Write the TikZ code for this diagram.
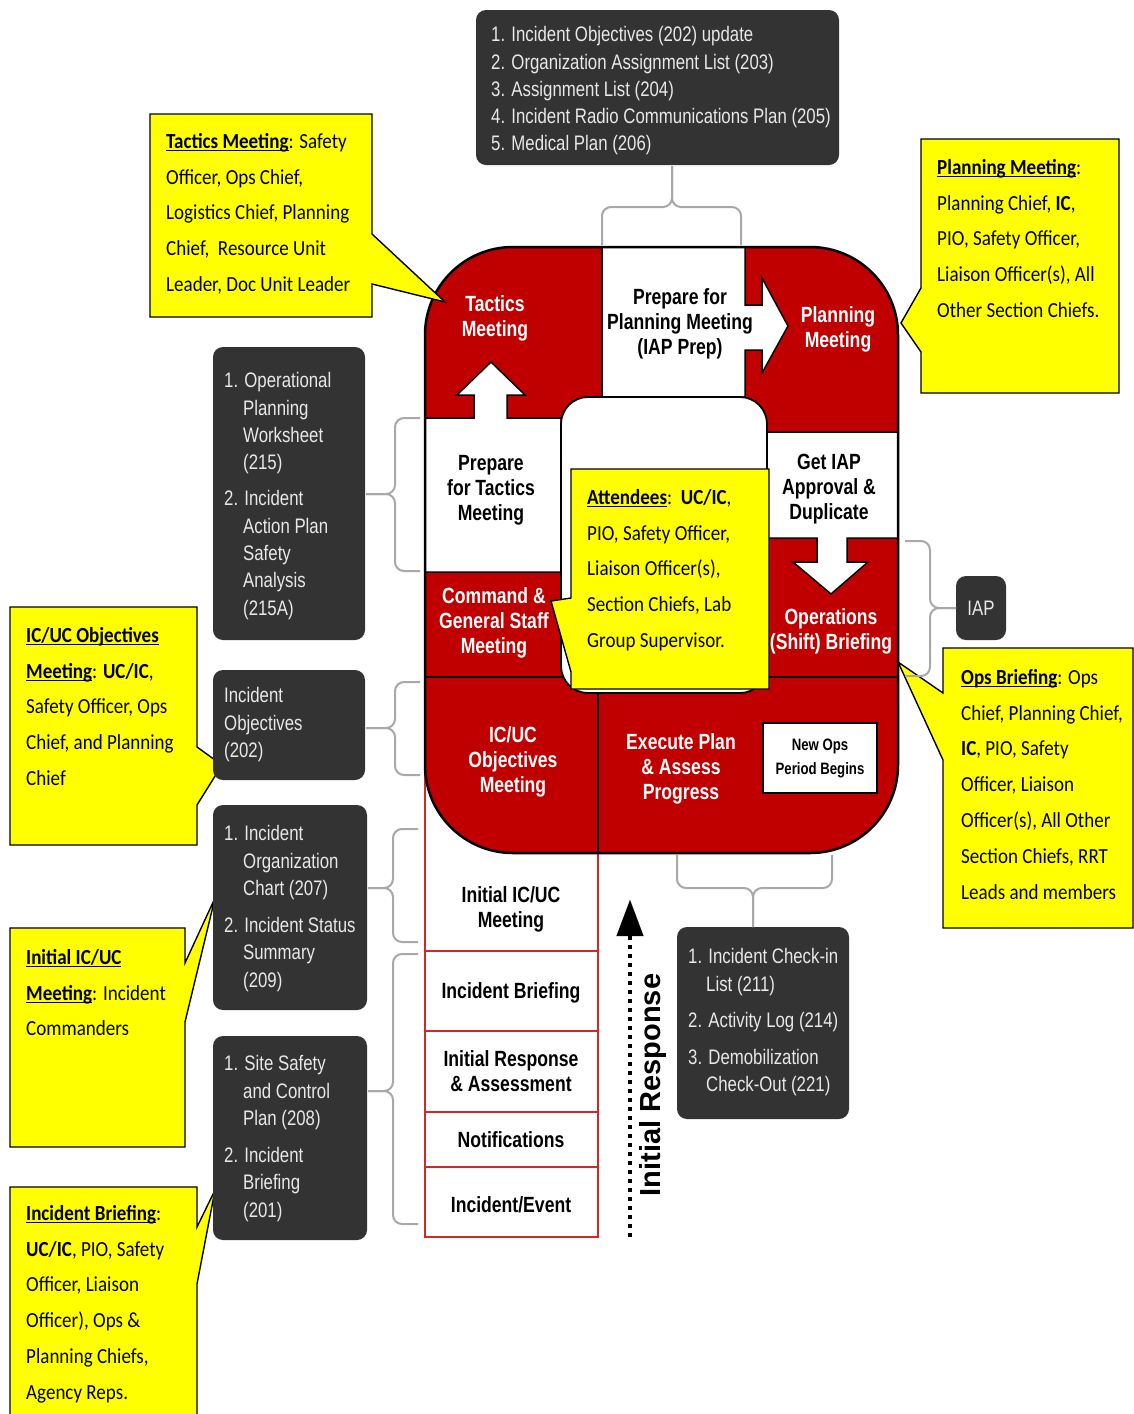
\documentclass[tikz,border=0pt]{standalone}
\usepackage{fontspec}
\usetikzlibrary{arrows.meta}
\newfontfamily\callfont[FakeStretch=0.885]{Carlito}
\newfontfamily\narrowfont[FakeStretch=0.80]{Liberation Sans}
\newfontfamily\pfont[FakeStretch=0.80]{Liberation Sans}
\newfontfamily\irfont{Liberation Sans}
\definecolor{pred}{HTML}{C00000}
\definecolor{colred}{HTML}{D42828}
\definecolor{dbox}{HTML}{333333}
\definecolor{dtxt}{HTML}{E8E8E8}
\definecolor{brgray}{HTML}{A8A8A8}
\definecolor{cyel}{HTML}{FFFF00}
\newcommand\cstrut{\rule{0pt}{16pt}}
\newcommand\dstrut{\rule{0pt}{17pt}}
\newcommand\itind{\hspace*{19pt}}
\newcommand\ulbf[1]{\setbox0=\hbox{\bfseries #1}\rlap{\rule[-3.2pt]{\wd0}{1.5pt}}\box0}
\tikzset{
  callout/.style={fill=cyel, draw=black, line width=1.4pt, line join=miter},
  ctext/.style={anchor=north west, inner sep=0pt, align=left, font={\callfont\fontsize{21.5}{35.8}\selectfont}},
  darkbox/.style={fill=dbox, draw=none, rounded corners=10pt, inner sep=0pt},
  dtext/.style={anchor=north west, inner sep=0pt, align=left, text=dtxt, font={\narrowfont\fontsize{21}{27.3}\selectfont}},
  ptxt/.style={align=center, inner sep=0pt, font={\pfont\bfseries\fontsize{22}{25}\selectfont}},
  pwhite/.style={ptxt, text=white},
  gbr/.style={draw=brgray, line width=2pt, rounded corners=9pt},
  colline/.style={draw=colred, line width=2pt},
  cellwhite/.style={fill=white, draw=black, line width=1.5pt, line join=miter},
}
\begin{document}
\begin{tikzpicture}[x=1pt,y=-1pt]
\useasboundingbox (0,0) rectangle (1134,1414);
\fill[white] (0,0) rectangle (1134,1414);

% ---------- initial response column ----------
\draw[colline] (425,677) -- (425,1237);
\draw[colline] (598,853) -- (598,1237);
\draw[colline] (425,951) -- (598,951);
\draw[colline] (425,1031) -- (598,1031);
\draw[colline] (425,1112) -- (598,1112);
\draw[colline] (425,1167) -- (598,1167);
\draw[colline] (424,1237) -- (599,1237);
\node[ptxt] (c1) at (511,909) {Initial IC/UC\\Meeting};
\node[ptxt] (c2) at (511,993) {Incident Briefing};
\node[ptxt] (c3) at (511,1071) {Initial Response\\\& Assessment};
\node[ptxt] (c4) at (511,1140) {Notifications};
\node[ptxt] (c5) at (511,1205) {Incident/Event};

% ---------- planning P ----------
\fill[pred, rounded corners=88pt] (425,247) rectangle (898,853);
% prepare for tactics + up arrow
\draw[cellwhite] (425,572) -- (425,418) -- (474,418) -- (474,395) -- (457,395) -- (491,362) -- (525,395) -- (507,395) -- (507,418) -- (561,418) -- (561,572) -- cycle;
% prepare for planning + right arrow
\draw[cellwhite] (602,247) -- (745,247) -- (745,305) -- (762,305) -- (762,278) -- (788,326) -- (762,373) -- (762,350) -- (745,350) -- (745,397) -- (602,397) -- cycle;
% get IAP + down arrow
\draw[cellwhite] (767,432) -- (898,432) -- (898,538) -- (847,538) -- (847,562) -- (868,562) -- (831,594) -- (793,562) -- (817,562) -- (817,538) -- (767,538) -- cycle;
% internal lines
\draw[line width=1.5pt] (425,677) -- (898,677);
\draw[line width=1.5pt] (598,677) -- (598,853);
% centre hole
\draw[fill=white, line width=1.8pt, rounded corners=27pt] (561,397) rectangle (767,693);
% outline
\draw[line width=2.5pt, rounded corners=88pt] (425,247) rectangle (898,853);

\node[pwhite] (tac) at (495,318) {Tactics\\Meeting};
\node[ptxt] (ppm) at (680,324) {Prepare for\\Planning Meeting\\(IAP Prep)};
\node[pwhite] (plm) at (838,329) {Planning\\Meeting};
\node[ptxt] (ptm) at (491,490) {Prepare\\for Tactics\\Meeting};
\node[pwhite] (cgs) at (494,623) {Command \&\\General Staff\\Meeting};
\node[ptxt] (gia) at (829,489) {Get IAP\\Approval \&\\Duplicate};
\node[pwhite] (osb) at (831,631) {Operations\\(Shift) Briefing};
\node[pwhite] (ico) at (513,762) {IC/UC\\Objectives\\Meeting};
\node[pwhite] (exe) at (681,769) {Execute Plan\\\& Assess\\Progress};
\node[draw=black, fill=white, line width=1.5pt, minimum width=114pt, minimum height=70pt, inner sep=0pt, align=center,
      font={\pfont\bfseries\fontsize{16.5}{24}\selectfont}] (nop) at (820,758) {New Ops\\Period Begins};

% ---------- callouts ----------
\draw[callout] (150,114) -- (372,114) -- (372,234) -- (445,302) -- (372,284) -- (372,317) -- (150,317) -- cycle;
\node[ctext] (ta) at (166,132) {\cstrut\ulbf{Tactics Meeting}: Safety\\Officer, Ops Chief,\\Logistics Chief, Planning\\Chief,\ \ Resource Unit\\Leader, Doc Unit Leader};

\draw[callout] (921,139) -- (1119,139) -- (1119,393) -- (921,393) -- (921,352) -- (901,323) -- (921,288) -- cycle;
\node[ctext] (tb) at (937,158) {\cstrut\ulbf{Planning Meeting}:\\Planning Chief, \textbf{IC},\\PIO, Safety Officer,\\Liaison Officer(s), All\\Other Section Chiefs.};

\draw[callout] (571,469) -- (769,469) -- (769,689) -- (571,689) -- (571,672) -- (551,601) -- (571,598) -- cycle;
\node[ctext] (tc) at (587,488) {\cstrut\ulbf{Attendees}:\ \ \textbf{UC/IC},\\PIO, Safety Officer,\\Liaison Officer(s),\\Section Chiefs, Lab\\Group Supervisor.};

\draw[callout] (943,648) -- (1133,648) -- (1133,928) -- (943,928) -- (943,760) -- (898,662) -- (943,693) -- cycle;
\node[ctext] (td) at (961,668) {\cstrut\ulbf{Ops Briefing}: Ops\\Chief, Planning Chief,\\\textbf{IC}, PIO, Safety\\Officer, Liaison\\Officer(s), All Other\\Section Chiefs, RRT\\Leads and members};

\draw[callout] (10,607) -- (197,607) -- (197,747) -- (222,765) -- (197,805) -- (197,845) -- (10,845) -- cycle;
\node[ctext] (te) at (26,626) {\cstrut\ulbf{IC/UC Objectives}\\\ulbf{Meeting}: \textbf{UC/IC},\\Safety Officer, Ops\\Chief, and Planning\\Chief};

\draw[callout] (10,928) -- (185,928) -- (185,963) -- (215,898) -- (185,1022) -- (185,1147) -- (10,1147) -- cycle;
\node[ctext] (tf) at (26,948) {\cstrut\ulbf{Initial IC/UC}\\\ulbf{Meeting}: Incident\\Commanders};

\draw[callout] (10,1187) -- (197,1187) -- (197,1227) -- (215,1190) -- (197,1284) -- (197,1420) -- (10,1420) -- cycle;
\node[ctext] (tg) at (26,1204) {\cstrut\ulbf{Incident Briefing}:\\\textbf{UC/IC}, PIO, Safety\\Officer, Liaison\\Officer), Ops \&\\Planning Chiefs,\\Agency Reps.};

% ---------- dark boxes ----------
\node[darkbox, minimum width=363pt, minimum height=155pt] (btop) at (657.5,87.5) {};
\node[dtext] (btopt) at (491,24.5) {\dstrut 1. Incident Objectives (202) update\\2. Organization Assignment List (203)\\3. Assignment List (204)\\4. Incident Radio Communications Plan (205)\\5. Medical Plan (206)};

\node[darkbox, minimum width=152pt, minimum height=293pt] (b1) at (289,493.5) {};
\node[dtext] (b1t) at (224,370.5) {\dstrut 1. Operational\\\itind Planning\\\itind Worksheet\\\itind (215)\\[9pt]2. Incident\\\itind Action Plan\\\itind Safety\\\itind Analysis\\\itind (215A)};

\node[darkbox, minimum width=152pt, minimum height=110pt] (b2) at (289,725) {};
\node[dtext] (b2t) at (224,685.5) {\dstrut Incident\\Objectives\\(202)};

\node[darkbox, minimum width=154pt, minimum height=205pt] (b3) at (290,907.5) {};
\node[dtext] (b3t) at (224,823.5) {\dstrut 1. Incident\\\itind Organization\\\itind Chart (207)\\[10pt]2. Incident Status\\\itind Summary\\\itind (209)};

\node[darkbox, minimum width=154pt, minimum height=204pt] (b4) at (290,1138) {};
\node[dtext] (b4t) at (224,1053.5) {\dstrut 1. Site Safety\\\itind and Control\\\itind Plan (208)\\[10pt]2. Incident\\\itind Briefing\\\itind (201)};

\node[darkbox, minimum width=172pt, minimum height=192pt] (b5) at (763,1023) {};
\node[dtext] (b5t) at (688,946.5) {\dstrut 1. Incident Check-in\\\hspace*{18pt}List (211)\\[9pt]2. Activity Log (214)\\[10pt]3. Demobilization\\\hspace*{18pt}Check-Out (221)};

\node[darkbox, minimum width=50pt, minimum height=64pt, text=dtxt, font={\narrowfont\fontsize{21}{24}\selectfont}] (iap) at (981,608) {IAP};

% ---------- braces ----------
\draw[gbr] (602,245) -- (602,207) -- (672,207) -- (672,166);
\draw[gbr] (741,245) -- (741,207) -- (672,207) -- (672,166);

\draw[gbr] (420,418) -- (395,418) -- (395,494) -- (366,494);
\draw[gbr] (420,571) -- (395,571) -- (395,494) -- (366,494);

\draw[gbr] (420,682) -- (395,682) -- (395,728) -- (366,728);
\draw[gbr] (420,775) -- (395,775) -- (395,728) -- (366,728);

\draw[gbr] (418,829) -- (393,829) -- (393,888) -- (368,888);
\draw[gbr] (418,942) -- (393,942) -- (393,888) -- (368,888);

\draw[gbr] (418,954) -- (393,954) -- (393,1091) -- (368,1091);
\draw[gbr] (418,1224) -- (393,1224) -- (393,1091) -- (368,1091);

\draw[gbr] (677,855) -- (677,888) -- (753,888) -- (753,927);
\draw[gbr] (832,855) -- (832,888) -- (753,888) -- (753,927);

\draw[gbr] (905,541) -- (930,541) -- (930,608) -- (956,608);
\draw[gbr] (905,676) -- (930,676) -- (930,608) -- (956,608);

% ---------- initial response arrow ----------
\coordinate (irS) at (630,1237);
\coordinate (irE) at (630,900);
\draw[line width=4.5pt, dash pattern=on 4.5pt off 4.5pt, -{Triangle[width=27pt,length=36pt,line width=0.1pt]}] (irS) -- (irE);
\node[rotate=90, inner sep=0pt, font={\irfont\bfseries\fontsize{29}{30}\selectfont}] (irl) at (653,1085) {Initial Response};
\end{tikzpicture}
\end{document}
